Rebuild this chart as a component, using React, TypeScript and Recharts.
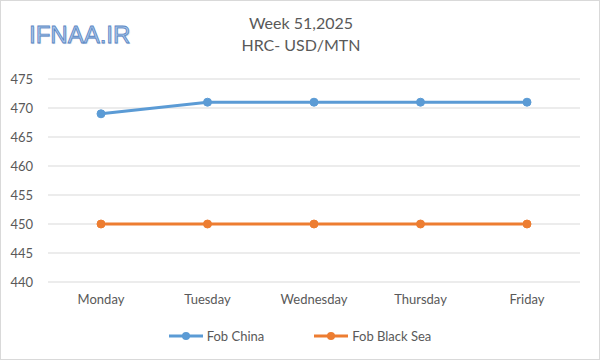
import { CartesianGrid, Legend, Line, LineChart, XAxis, YAxis } from "recharts";

const days = ["Monday", "Tuesday", "Wednesday", "Thursday", "Friday"];
const fobChina = [469, 471, 471, 471, 471];
const fobBlackSea = [450, 450, 450, 450, 450];
const yTicks = [440, 445, 450, 455, 460, 465, 470, 475];

const seriesInfo = [
  { key: "china", name: "Fob China", color: "#5B9BD5" },
  { key: "blackSea", name: "Fob Black Sea", color: "#ED7D31" }
];

const data = days.map((day, i) => ({
  day,
  china: fobChina[i],
  blackSea: fobBlackSea[i]
}));

const FONT = "Lato, 'Open Sans', sans-serif";
const TEXT = "#595959";

function LegendRow() {
  return (
    <div style={{ display: "flex", justifyContent: "center", gap: 50, fontFamily: FONT, fontSize: 13, color: TEXT }}>
      {seriesInfo.map((s) => (
        <div key={s.key} style={{ display: "flex", alignItems: "center", gap: 4 }}>
          <svg width={34} height={10}>
            <line x1={0} y1={5} x2={34} y2={5} stroke={s.color} strokeWidth={3} />
            <circle cx={17} cy={5} r={4} fill={s.color} />
          </svg>
          <span>{s.name}</span>
        </div>
      ))}
    </div>
  );
}

export default function App() {
  return (
    <div
      style={{
        position: "absolute",
        top: 0,
        left: 0,
        width: 600,
        height: 360,
        boxSizing: "border-box",
        border: "1px solid #d9d9d9",
        background: "#fff",
        fontFamily: FONT
      }}
    >
      <div
        style={{
          position: "absolute",
          left: 28,
          top: 20,
          fontFamily: "'Liberation Sans Narrow', 'Liberation Sans', sans-serif",
          fontSize: 24,
          color: "#a9c6ea",
          WebkitTextStroke: "0.8px #5a86c4",
          textShadow: "1px 1px 1px #c8d6e8"
        }}
      >
        IFNAA.IR
      </div>
      <div
        style={{
          position: "absolute",
          left: 0,
          top: 11,
          width: 600,
          textAlign: "center",
          fontSize: 16,
          lineHeight: "22px",
          color: TEXT
        }}
      >
        <div>Week 51,2025</div>
        <div>HRC- USD/MTN</div>
      </div>
      <LineChart
        width={600}
        height={360}
        data={data}
        margin={{ top: 79, right: 20, bottom: 28, left: 0 }}
        style={{ position: "absolute", top: -1, left: -1 }}
      >
        <CartesianGrid stroke="#d9d9d9" vertical={false} />
        <XAxis
          dataKey="day"
          padding={{ left: 53, right: 53 }}
          axisLine={false}
          tickLine={false}
          tickMargin={7}
          height={30}
          tick={{ fill: TEXT, fontSize: 13, fontFamily: FONT }}
        />
        <YAxis
          domain={[440, 475]}
          ticks={yTicks}
          width={48}
          axisLine={false}
          tickLine={false}
          tickMargin={9}
          tick={{ fill: TEXT, fontSize: 13, fontFamily: FONT }}
        />
        <Legend
          content={() => <LegendRow />}
          wrapperStyle={{ top: 328, left: 0, width: 600, height: 20 }}
        />
        {seriesInfo.map((s) => (
          <Line
            key={s.key}
            dataKey={s.key}
            name={s.name}
            stroke={s.color}
            strokeWidth={3}
            dot={{ r: 4, fill: s.color, stroke: s.color, strokeWidth: 1 }}
            isAnimationActive={false}
          />
        ))}
      </LineChart>
    </div>
  );
}
